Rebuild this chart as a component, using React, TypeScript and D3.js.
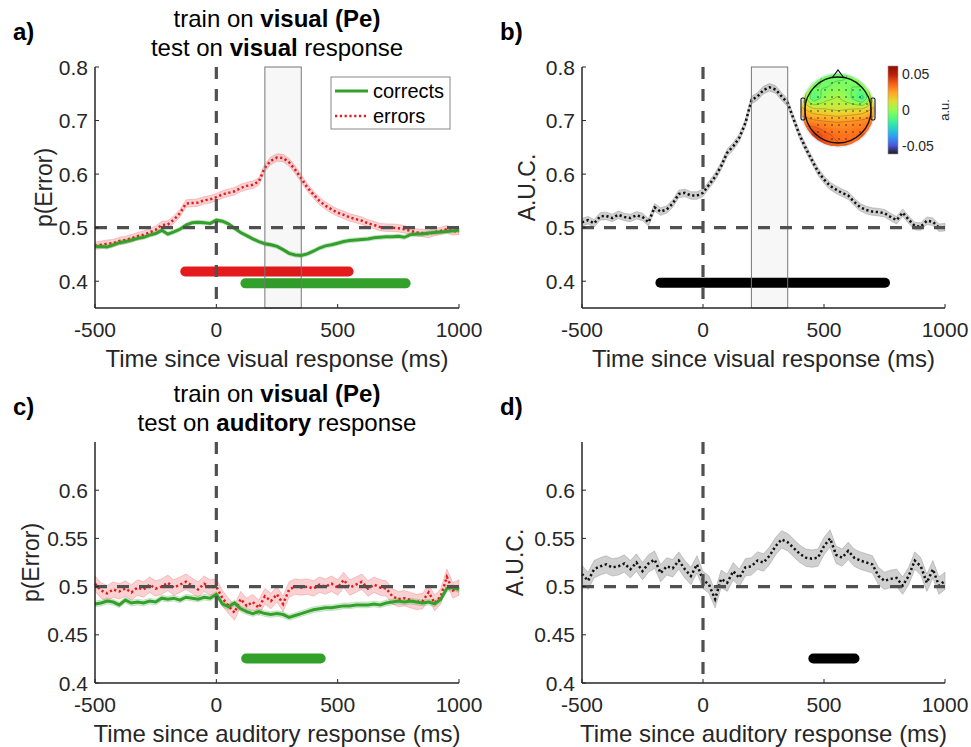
import * as d3 from "d3";
import React from "react";

// time axis (ms), one sample every 25 ms
const times = [
  -500, -475, -450, -425, -400, -375, -350, -325, -300, -275,
  -250, -225, -200, -175, -150, -125, -100, -75, -50, -25,
  0, 25, 50, 75, 100, 125, 150, 175, 200, 225,
  250, 275, 300, 325, 350, 375, 400, 425, 450, 475,
  500, 525, 550, 575, 600, 625, 650, 675, 700, 725,
  750, 775, 800, 825, 850, 875, 900, 925, 950, 975,
  1000,
];

// a) visual -> visual, p(Error)
const aErrors = [
  0.466, 0.468, 0.47, 0.471, 0.475, 0.477, 0.48, 0.484, 0.487, 0.491,
  0.496, 0.505, 0.506, 0.515, 0.527, 0.545, 0.546, 0.547, 0.551, 0.553,
  0.557, 0.562, 0.565, 0.568, 0.574, 0.578, 0.58, 0.586, 0.612, 0.625,
  0.631, 0.63, 0.622, 0.608, 0.592, 0.575, 0.562, 0.55, 0.541, 0.534,
  0.528, 0.524, 0.519, 0.516, 0.513, 0.508, 0.505, 0.501, 0.5, 0.5,
  0.499, 0.497, 0.494, 0.491, 0.49, 0.488, 0.492, 0.494, 0.497, 0.493,
  0.494,
];
const aCorrects = [
  0.465, 0.465, 0.464, 0.468, 0.472, 0.474, 0.477, 0.48, 0.482, 0.486,
  0.489, 0.495, 0.488, 0.492, 0.497, 0.505, 0.509, 0.51, 0.509, 0.508,
  0.514, 0.512, 0.507, 0.499, 0.491, 0.485, 0.479, 0.474, 0.47, 0.468,
  0.465, 0.459, 0.452, 0.449, 0.448, 0.451, 0.456, 0.462, 0.466, 0.468,
  0.471, 0.474, 0.476, 0.477, 0.478, 0.479, 0.481, 0.482, 0.483, 0.483,
  0.484, 0.482, 0.487, 0.488, 0.488, 0.49, 0.491, 0.492, 0.493, 0.494,
  0.495,
];

// b) visual -> visual, AUC
const bAuc = [
  0.51, 0.514, 0.508, 0.521, 0.522, 0.518, 0.524, 0.52, 0.518, 0.523,
  0.52, 0.51, 0.538, 0.53, 0.534, 0.545, 0.563, 0.565, 0.56, 0.56,
  0.565, 0.58, 0.595, 0.615, 0.64, 0.652, 0.668, 0.695, 0.738, 0.745,
  0.757, 0.762, 0.758, 0.745, 0.733, 0.702, 0.672, 0.648, 0.626, 0.605,
  0.59, 0.578, 0.571, 0.565, 0.56, 0.548, 0.538, 0.533, 0.53, 0.529,
  0.527, 0.52, 0.514, 0.528, 0.515, 0.503, 0.502, 0.513, 0.511, 0.5,
  0.501,
];

// c) visual -> auditory, p(Error)
const cErrors = [
  0.503, 0.496, 0.493, 0.497, 0.495, 0.498, 0.494, 0.499, 0.497, 0.502,
  0.498, 0.5, 0.504, 0.499, 0.502, 0.505, 0.501, 0.497, 0.503, 0.499,
  0.5, 0.488, 0.48, 0.473, 0.487, 0.48, 0.484, 0.478, 0.49, 0.485,
  0.492, 0.482, 0.497, 0.5, 0.499, 0.5, 0.498, 0.502, 0.5, 0.503,
  0.499, 0.507, 0.499, 0.502, 0.505, 0.498, 0.502, 0.499, 0.498, 0.49,
  0.487, 0.488, 0.486, 0.484, 0.485, 0.494, 0.483, 0.49, 0.51, 0.496,
  0.499,
];
const cCorrects = [
  0.482, 0.483, 0.485, 0.484, 0.481, 0.486, 0.483, 0.484, 0.483, 0.485,
  0.484, 0.488, 0.487, 0.488, 0.486, 0.489, 0.488, 0.487, 0.489, 0.488,
  0.492, 0.482, 0.479, 0.483, 0.477, 0.474, 0.472, 0.474, 0.472, 0.471,
  0.472, 0.471, 0.468, 0.47, 0.472, 0.474, 0.476, 0.477, 0.478, 0.478,
  0.479, 0.48, 0.48, 0.481, 0.481, 0.481, 0.482, 0.481, 0.483, 0.484,
  0.485, 0.484, 0.485, 0.484, 0.483, 0.484, 0.482, 0.487, 0.498, 0.499,
  0.497,
];

// d) visual -> auditory, AUC
const dAuc = [
  0.513, 0.506, 0.518, 0.521, 0.523, 0.52, 0.521, 0.524, 0.518, 0.525,
  0.516, 0.524, 0.528, 0.514, 0.521, 0.519, 0.527, 0.518, 0.511, 0.523,
  0.507, 0.502, 0.487, 0.508, 0.504, 0.516, 0.509, 0.52, 0.521, 0.527,
  0.525, 0.532, 0.542, 0.549, 0.546, 0.54, 0.534, 0.53, 0.529, 0.53,
  0.542, 0.55, 0.533, 0.53, 0.537, 0.53, 0.527, 0.525, 0.523, 0.511,
  0.506, 0.508, 0.509, 0.501, 0.511, 0.527, 0.521, 0.504, 0.518, 0.501,
  0.506,
];

// significance bars: [start ms, end ms, y level]
const aErrSig = [-128, 545, 0.418];
const aCorSig = [120, 780, 0.396];
const bSig = [-176, 752, 0.397];
const cCorSig = [123, 430, 0.4255];
const dSig = [456, 626, 0.4255];

const topoWindow = [200, 350];
const xTicks = [-500, 0, 500, 1000];
const yTicksTop = [0.4, 0.5, 0.6, 0.7, 0.8];
const yTicksBottom = [0.4, 0.45, 0.5, 0.55, 0.6];
const cbarTicks = [0.05, 0, -0.05];

// topography (a.u.), rows front -> back, left -> right
const topoGrid = [
  [0.008, -0.003, -0.006, -0.008, -0.004, 0.004, 0.012],
  [0.008, -0.004, -0.006, -0.003, -0.005, -0.004, 0.012],
  [0.01, -0.012, 0.0, 0.004, -0.004, -0.016, 0.012],
  [0.022, 0.014, 0.012, 0.01, 0.012, 0.014, 0.022],
  [0.033, 0.03, 0.028, 0.027, 0.028, 0.03, 0.033],
  [0.04, 0.043, 0.036, 0.033, 0.033, 0.035, 0.036],
  [0.042, 0.05, 0.04, 0.036, 0.035, 0.036, 0.036],
];

const FONT = "'Liberation Sans', Arial, Helvetica, sans-serif";
const RED = "#e41a1c";
const GREEN = "#33a02c";
const DASH = "#505050";

type Series = { values: number[]; ci: number; color: string; fill: string; dotted: boolean; width: number };

interface PanelProps {
  letter: string;
  left: number;
  right: number;
  top: number;
  bottom: number;
  yDomain: [number, number];
  yTicks: number[];
  series: Series[];
  bars: { sig: number[]; color: string }[];
  titles?: React.ReactNode[];
  titleY?: number;
  xLabel: string;
  yLabel: string;
  yLabelX: number;
  showWindow: boolean;
}

const Panel = (p: PanelProps) => {
  const x = d3.scaleLinear().domain([-500, 1000]).range([p.left, p.right]);
  const y = d3.scaleLinear().domain(p.yDomain).range([p.bottom, p.top]);
  const line = d3.line<number>().x((_, i) => x(times[i])).y((d) => y(d));
  const band = (s: Series) =>
    d3.area<number>().x((_, i) => x(times[i])).y0((d) => y(d - s.ci)).y1((d) => y(d + s.ci))(s.values) || "";
  const mid = (p.left + p.right) / 2;

  return (
    <g>
      <text x={p.left - 82} y={p.top - 27} fontSize={24} fontWeight="bold">{p.letter}</text>
      {p.titles &&
        p.titles.map((t, i) => (
          <text key={i} x={mid} y={(p.titleY || 0) + i * 29} fontSize={24} textAnchor="middle">{t}</text>
        ))}

      {p.series.map((s, i) => (
        <path key={"b" + i} d={band(s)} fill={s.fill} stroke={s.fill} strokeWidth={1} />
      ))}
      {p.series.map((s, i) => (
        <path
          key={"l" + i}
          d={line(s.values) || ""}
          fill="none"
          stroke={s.color}
          strokeWidth={s.width}
          strokeDasharray={s.dotted ? "2.2 2.6" : undefined}
        />
      ))}

      {p.bars.map((b, i) => (
        <line
          key={"s" + i}
          x1={x(b.sig[0])}
          x2={x(b.sig[1])}
          y1={y(b.sig[2])}
          y2={y(b.sig[2])}
          stroke={b.color}
          strokeWidth={10}
          strokeLinecap="round"
        />
      ))}

      {p.showWindow && (
        <rect
          x={x(topoWindow[0])}
          y={p.top}
          width={x(topoWindow[1]) - x(topoWindow[0])}
          height={p.bottom - p.top}
          fill="rgba(0,0,0,0.03)"
          stroke="#777"
          strokeWidth={1}
        />
      )}

      <line x1={x(0)} x2={x(0)} y1={p.top} y2={p.bottom} stroke={DASH} strokeWidth={3.2} strokeDasharray="12 10" />
      <line x1={p.left} x2={p.right} y1={y(0.5)} y2={y(0.5)} stroke={DASH} strokeWidth={3.2} strokeDasharray="12 10" />

      {/* axes */}
      <line x1={p.left} x2={p.left} y1={p.top} y2={p.bottom} stroke="#262626" strokeWidth={1.5} />
      <line x1={p.left} x2={p.right} y1={p.bottom} y2={p.bottom} stroke="#262626" strokeWidth={1.5} />
      {xTicks.map((t) => (
        <g key={"x" + t}>
          <line x1={x(t)} x2={x(t)} y1={p.bottom} y2={p.bottom - 4} stroke="#262626" strokeWidth={1} />
          <text x={x(t)} y={p.bottom + 29} fontSize={21} textAnchor="middle" fill="#262626">{t}</text>
        </g>
      ))}
      {p.yTicks.map((t) => (
        <g key={"y" + t}>
          <line x1={p.left} x2={p.left + 4} y1={y(t)} y2={y(t)} stroke="#262626" strokeWidth={1} />
          <text x={p.left - 7} y={y(t) + 7.5} fontSize={21} textAnchor="end" fill="#262626">{String(t)}</text>
        </g>
      ))}
      <text x={mid} y={p.bottom + 59} fontSize={24} textAnchor="middle" fill="#262626">{p.xLabel}</text>
      <text
        transform={`translate(${p.yLabelX},${(p.top + p.bottom) / 2}) rotate(-90)`}
        fontSize={23}
        textAnchor="middle"
        fill="#262626"
      >
        {p.yLabel}
      </text>
    </g>
  );
};

const Legend = () => (
  <g>
    <rect x={331} y={77} width={119} height={52} fill="#fff" stroke="#888" strokeWidth={1} />
    <line x1={335} x2={368} y1={91} y2={91} stroke={GREEN} strokeWidth={3} />
    <line x1={335} x2={368} y1={116} y2={116} stroke={RED} strokeWidth={2.5} strokeDasharray="2.2 2.6" />
    <text x={373} y={98} fontSize={20}>corrects</text>
    <text x={373} y={123} fontSize={20}>errors</text>
  </g>
);

const Topo = ({ cx, cy }: { cx: number; cy: number }) => {
  const R = 37;
  const N = 60;
  const rows = topoGrid.length;
  const cols = topoGrid[0].length;
  const field: number[] = [];
  for (let i = 0; i < N; i++) {
    for (let j = 0; j < N; j++) {
      const v = (i / (N - 1)) * (rows - 1);
      const u = (j / (N - 1)) * (cols - 1);
      const r0 = Math.min(Math.floor(v), rows - 2);
      const c0 = Math.min(Math.floor(u), cols - 2);
      const fv = v - r0;
      const fu = u - c0;
      const a = topoGrid[r0][c0] * (1 - fu) + topoGrid[r0][c0 + 1] * fu;
      const b = topoGrid[r0 + 1][c0] * (1 - fu) + topoGrid[r0 + 1][c0 + 1] * fu;
      field.push(a * (1 - fv) + b * fv);
    }
  }
  const color = d3.scaleSequential(d3.interpolateTurbo).domain([-0.061, 0.061]);
  const cell = (2 * R) / N;
  const contours = d3.contours().size([N, N]).thresholds(d3.range(-0.045, 0.05, 0.008))(field);
  const path = d3.geoPath(d3.geoIdentity().scale(cell).translate([cx - R, cy - R]) as any);
  const dots: [number, number][] = [];
  d3.range(-28, 29, 7).forEach((dx) =>
    d3.range(-28, 29, 7).forEach((dy) => {
      if (Math.hypot(dx, dy) < 31) dots.push([cx + dx + 1, cy + dy + 1]);
    })
  );

  const cbTop = 66;
  const cbBot = 154;
  const cy0 = d3.scaleLinear().domain([-0.061, 0.061]).range([cbBot, cbTop]);
  const stops = d3.range(0, 1.0001, 0.1);

  return (
    <g>
      <defs>
        <clipPath id="headclip">
          <circle cx={cx} cy={cy} r={R} />
        </clipPath>
        <linearGradient id="cbar" x1="0" y1="1" x2="0" y2="0">
          {stops.map((s) => (
            <stop key={s} offset={s} stopColor={d3.interpolateTurbo(s)} />
          ))}
        </linearGradient>
      </defs>
      <g clipPath="url(#headclip)">
        {field.map((v, k) => (
          <rect
            key={k}
            x={cx - R + (k % N) * cell}
            y={cy - R + Math.floor(k / N) * cell}
            width={cell + 0.5}
            height={cell + 0.5}
            fill={color(v)}
          />
        ))}
        {contours.map((c, k) => (
          <path key={"c" + k} d={path(c as any) || ""} fill="none" stroke="#333" strokeOpacity={0.45} strokeWidth={0.6} />
        ))}
      </g>
      <circle cx={cx} cy={cy} r={R} fill="none" stroke="#e2ecf5" strokeWidth={1.5} />
      {dots.map((d, k) => (
        <circle key={"e" + k} cx={d[0]} cy={d[1]} r={0.7} fill="#111" />
      ))}
      <circle cx={cx} cy={cy} r={33} fill="none" stroke="#111" strokeWidth={1.3} />
      <path d={`M${cx - 6},${cy - 32} L${cx},${cy - 40} L${cx + 6},${cy - 32}`} fill="none" stroke="#111" strokeWidth={1.2} />
      <rect x={cx - 37} y={cy - 12} width={4} height={22} rx={1.5} fill="none" stroke="#111" strokeWidth={1.1} />
      <rect x={cx + 33} y={cy - 12} width={4} height={22} rx={1.5} fill="none" stroke="#111" strokeWidth={1.1} />

      <rect x={888} y={cbTop} width={10} height={cbBot - cbTop} fill="url(#cbar)" stroke="#999" strokeWidth={0.6} />
      {cbarTicks.map((t) => (
        <text key={t} x={902} y={cy0(t) + 5} fontSize={14} fill="#262626">{String(t)}</text>
      ))}
      <text transform={`translate(949,110) rotate(-90)`} fontSize={13} textAnchor="middle" fill="#262626">a.u.</text>
    </g>
  );
};

export default function App() {
  const redBand = "rgba(228,26,28,0.2)";
  const greenBand = "rgba(51,160,44,0.2)";
  const grayBand = "rgba(120,120,120,0.35)";
  return (
    <svg
      width={971}
      height={747}
      style={{ position: "absolute", left: 0, top: 0, background: "#fff" }}
      fontFamily={FONT}
    >
      <Panel
        letter="a)"
        left={95}
        right={459}
        top={67}
        bottom={308}
        yDomain={[0.35, 0.8]}
        yTicks={yTicksTop}
        series={[
          { values: aErrors, ci: 0.007, color: RED, fill: redBand, dotted: true, width: 2.5 },
          { values: aCorrects, ci: 0.004, color: GREEN, fill: greenBand, dotted: false, width: 3 },
        ]}
        bars={[
          { sig: aErrSig, color: RED },
          { sig: aCorSig, color: GREEN },
        ]}
        titles={[
          <>train on <tspan fontWeight="bold">visual (Pe)</tspan></>,
          <>test on <tspan fontWeight="bold">visual</tspan> response</>,
        ]}
        titleY={27}
        xLabel="Time since visual response (ms)"
        yLabel="p(Error)"
        yLabelX={52}
        showWindow={true}
      />
      <Legend />
      <Panel
        letter="b)"
        left={582}
        right={945}
        top={67}
        bottom={308}
        yDomain={[0.35, 0.8]}
        yTicks={yTicksTop}
        series={[{ values: bAuc, ci: 0.007, color: "#111", fill: grayBand, dotted: true, width: 2.5 }]}
        bars={[{ sig: bSig, color: "#000" }]}
        xLabel="Time since visual response (ms)"
        yLabel="A.U.C."
        yLabelX={535}
        showWindow={true}
      />
      <Topo cx={838} cy={110} />
      <Panel
        letter="c)"
        left={95}
        right={459}
        top={442}
        bottom={683}
        yDomain={[0.4, 0.65]}
        yTicks={yTicksBottom}
        series={[
          { values: cErrors, ci: 0.008, color: RED, fill: redBand, dotted: true, width: 2.5 },
          { values: cCorrects, ci: 0.003, color: GREEN, fill: greenBand, dotted: false, width: 3 },
        ]}
        bars={[{ sig: cCorSig, color: GREEN }]}
        titles={[
          <>train on <tspan fontWeight="bold">visual (Pe)</tspan></>,
          <>test on <tspan fontWeight="bold">auditory</tspan> response</>,
        ]}
        titleY={402}
        xLabel="Time since auditory response (ms)"
        yLabel="p(Error)"
        yLabelX={39}
        showWindow={false}
      />
      <Panel
        letter="d)"
        left={582}
        right={945}
        top={442}
        bottom={683}
        yDomain={[0.4, 0.65]}
        yTicks={yTicksBottom}
        series={[{ values: dAuc, ci: 0.009, color: "#111", fill: grayBand, dotted: true, width: 2.5 }]}
        bars={[{ sig: dSig, color: "#000" }]}
        xLabel="Time since auditory response (ms)"
        yLabel="A.U.C."
        yLabelX={523}
        showWindow={false}
      />
    </svg>
  );
}
